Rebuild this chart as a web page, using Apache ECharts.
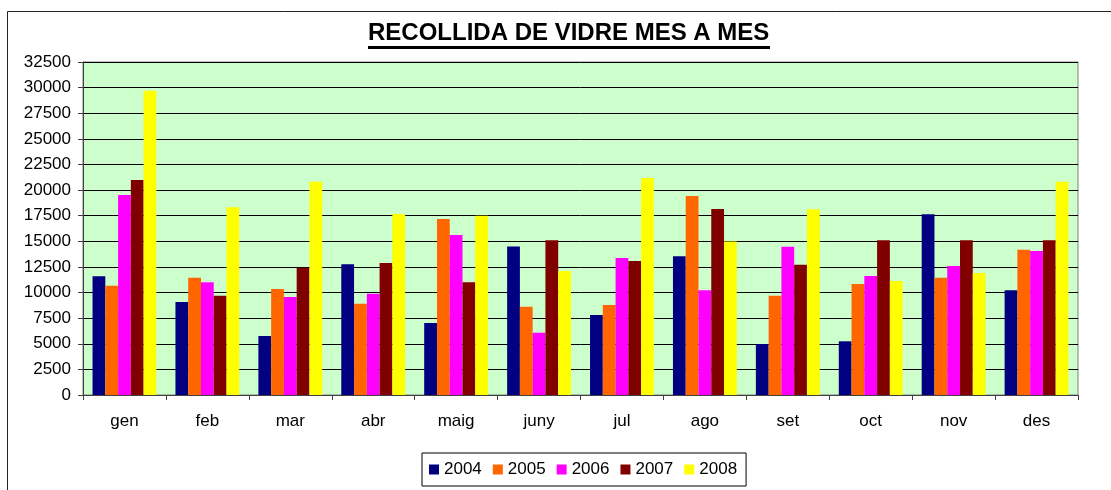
<!DOCTYPE html>
<html>
<head>
    <meta charset="UTF-8">
    <title>Recollida de vidre mes a mes</title>
    <script src="https://cdn.jsdelivr.net/npm/echarts@6/dist/echarts.min.js"></script>
    <style>
        html, body { margin: 0; padding: 0; background: #fff; }
        #chart { width: 1111px; height: 490px; }
    </style>
</head>
<body>
<div id="chart"></div>
<script>
    // dades llegides del gràfic
    var months = ['gen', 'feb', 'mar', 'abr', 'maig', 'juny', 'jul', 'ago', 'set', 'oct', 'nov', 'des'];
    var years = ['2004', '2005', '2006', '2007', '2008'];
    var v2004 = [11600, 9080, 5760, 12750, 7030, 14500, 7800, 13530, 4980, 5240, 17650, 10220];
    var v2005 = [10670, 11450, 10350, 8910, 17180, 8620, 8780, 19420, 9690, 10830, 11450, 14180];
    var v2006 = [19520, 11000, 9560, 9890, 15620, 6080, 13370, 10220, 14480, 11610, 12590, 14050];
    var v2007 = [20980, 9690, 12430, 12880, 11000, 15100, 13080, 18150, 12720, 15100, 15100, 15100];
    var v2008 = [29700, 18320, 20820, 17670, 17500, 12100, 21180, 14970, 18120, 11130, 11910, 20820];
    var colors = ['#000080', '#FF6600', '#FF00FF', '#800000', '#FFFF00'];

    var font = '"Liberation Sans", Arial, sans-serif';
    var allData = [v2004, v2005, v2006, v2007, v2008];
    var series = [];
    for (var i = 0; i < years.length; i++) {
        series.push({
            name: years[i],
            type: 'bar',
            data: allData[i],
            barGap: '0%',
            barCategoryGap: '23%',
            itemStyle: {color: colors[i]}
        });
    }

    var myChart = echarts.init(document.getElementById('chart'));
    var option = {
        animation: false,
        color: colors,
        textStyle: {fontFamily: font},
        title: {
            text: 'RECOLLIDA DE VIDRE MES A MES',
            left: 368,
            top: 21,
            padding: 0,
            textStyle: {fontFamily: font, fontSize: 24, fontWeight: 'bold', color: '#000'}
        },
        graphic: [
            // subratllat del títol
            {type: 'rect', left: 368, top: 46, shape: {width: 402, height: 3}, style: {fill: '#000'}, silent: true},
            // marc del gràfic
            {type: 'rect', shape: {x: 7.5, y: 11.5, width: 1200, height: 600}, style: {fill: 'none', stroke: '#222', lineWidth: 1}, silent: true, z: -1}
        ],
        legend: {
            data: years,
            left: 422,
            top: 453,
            itemWidth: 10,
            itemHeight: 10,
            itemGap: 11,
            padding: [8, 9, 8, 7],
            borderColor: '#000',
            borderWidth: 1,
            icon: 'rect',
            textStyle: {fontFamily: font, fontSize: 17, color: '#000'}
        },
        grid: {
            left: 83,
            top: 62,
            right: 33,
            bottom: 95,
            show: true,
            backgroundColor: '#CCFFCC',
            borderColor: '#808080',
            borderWidth: 1
        },
        xAxis: {
            type: 'category',
            data: months,
            axisLine: {lineStyle: {color: '#404040', width: 1}},
            axisTick: {show: true, length: 5, lineStyle: {color: '#404040'}},
            axisLabel: {margin: 18, fontSize: 17, color: '#000', fontFamily: font}
        },
        yAxis: {
            type: 'value',
            min: 0,
            max: 32500,
            interval: 2500,
            axisLine: {show: true, lineStyle: {color: '#404040', width: 1}},
            axisTick: {show: true, length: 5, lineStyle: {color: '#404040'}},
            axisLabel: {
                margin: 12, fontSize: 17, color: '#000', fontFamily: font,
                formatter: function (v) { return String(v); }
            },
            splitLine: {lineStyle: {color: '#000', width: 1}}
        },
        series: series
    };
    myChart.setOption(option);
</script>
</body>
</html>
